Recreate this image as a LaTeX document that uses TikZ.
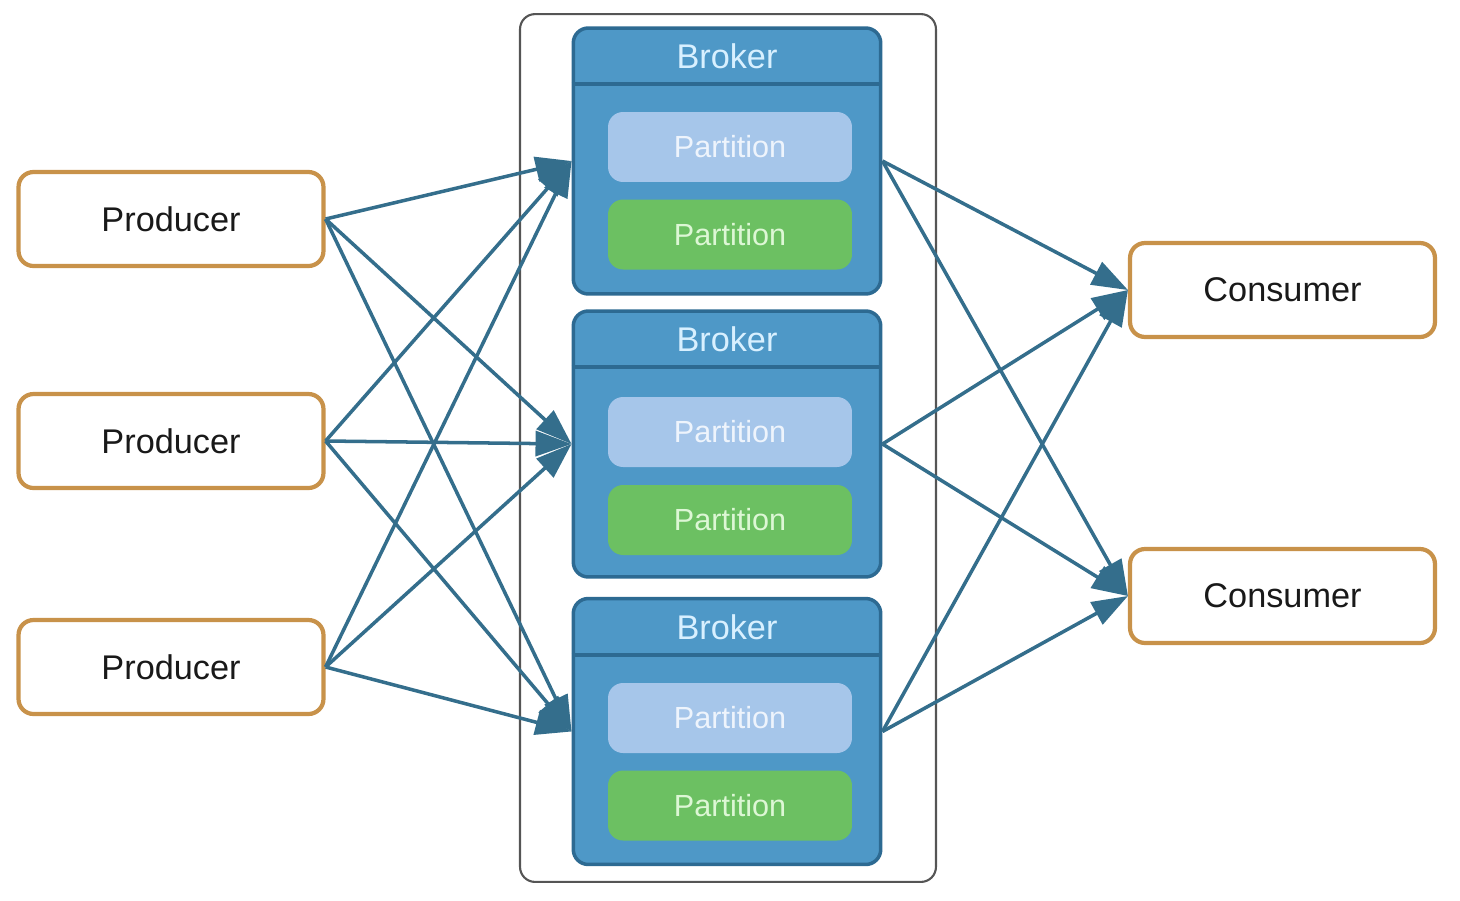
\documentclass[tikz,border=0pt]{standalone}
\usepackage{fontspec}
\setmainfont{Liberation Sans}
\usetikzlibrary{arrows.meta}
\definecolor{arrowc}{HTML}{346E8C}
\definecolor{brokerfill}{HTML}{4E98C7}
\definecolor{brokerdraw}{HTML}{2D6A92}
\definecolor{lightpart}{HTML}{A6C6EA}
\definecolor{greenpart}{HTML}{6CC062}
\definecolor{orangec}{HTML}{C8924A}
\definecolor{brokertext}{HTML}{D8F0FF}
\definecolor{lighttext}{HTML}{EEF4FC}
\definecolor{greentext}{HTML}{DDF7D5}
\definecolor{framec}{HTML}{555555}
\tikzset{
  endpoint/.style={draw=orangec, line width=2.4pt, fill=white, rounded corners=0.3cm,
    minimum width=6.1cm, minimum height=1.88cm, inner sep=0pt,
    font=\fontsize{19.5}{22}\selectfont, text=black!90},
  brokerbox/.style={draw=brokerdraw, line width=2pt, fill=brokerfill, rounded corners=0.3cm,
    minimum width=6.15cm, minimum height=5.32cm, inner sep=0pt},
  brokerlabel/.style={font=\fontsize{19.5}{22}\selectfont, text=brokertext, inner sep=0pt},
  lightpartbox/.style={fill=lightpart, rounded corners=0.3cm, minimum width=4.88cm,
    minimum height=1.4cm, inner sep=0pt, font=\fontsize{17.4}{20}\selectfont, text=lighttext},
  greenpartbox/.style={fill=greenpart, rounded corners=0.3cm, minimum width=4.88cm,
    minimum height=1.4cm, inner sep=0pt, font=\fontsize{17.4}{20}\selectfont, text=greentext},
  conn/.style={draw=arrowc, line width=2pt, -{Triangle[length=0.72cm, width=0.5cm]}},
  frame/.style={draw=framec, line width=1.2pt, rounded corners=0.3cm, minimum width=8.32cm,
    minimum height=17.36cm, inner sep=0pt}
}
\begin{document}
\begin{tikzpicture}[x=0.02cm, y=-0.02cm]
\useasboundingbox (0,0) rectangle (1460,900);
% container
\node[frame] (frame) at (728,448) {};
% producers
\node[endpoint] (p1) at (171,219) {Producer};
\node[endpoint] (p2) at (171,441) {Producer};
\node[endpoint] (p3) at (171,667) {Producer};
% consumers
\node[endpoint] (c1) at (1282.5,290) {Consumer};
\node[endpoint] (c2) at (1282.5,596) {Consumer};
% brokers
\foreach \n/\y in {1/161,2/444,3/731.5}{
  \node[brokerbox] (b\n) at (727,\y) {};
  \draw[brokerdraw, line width=2.2pt] ([yshift=-1.16cm]b\n.north west) -- ([yshift=-1.16cm]b\n.north east);
  \node[brokerlabel] (bl\n) at ([yshift=-0.6cm]b\n.north) {Broker};
}
\node[lightpartbox] (lp1) at (730,147) {Partition};
\node[greenpartbox] (gp1) at (730,234.5) {Partition};
\node[lightpartbox] (lp2) at (730,432) {Partition};
\node[greenpartbox] (gp2) at (730,520) {Partition};
\node[lightpartbox] (lp3) at (730,718) {Partition};
\node[greenpartbox] (gp3) at (730,805.5) {Partition};
% connectors
\foreach \p in {p1,p2,p3}{
  \foreach \b in {b1,b2,b3}{
    \draw[conn] (\p.east) -- (\b.west);
  }
}
\foreach \b in {b1,b2,b3}{
  \foreach \c in {c1,c2}{
    \draw[conn] (\b.east) -- (\c.west);
  }
}
\end{tikzpicture}
\end{document}
